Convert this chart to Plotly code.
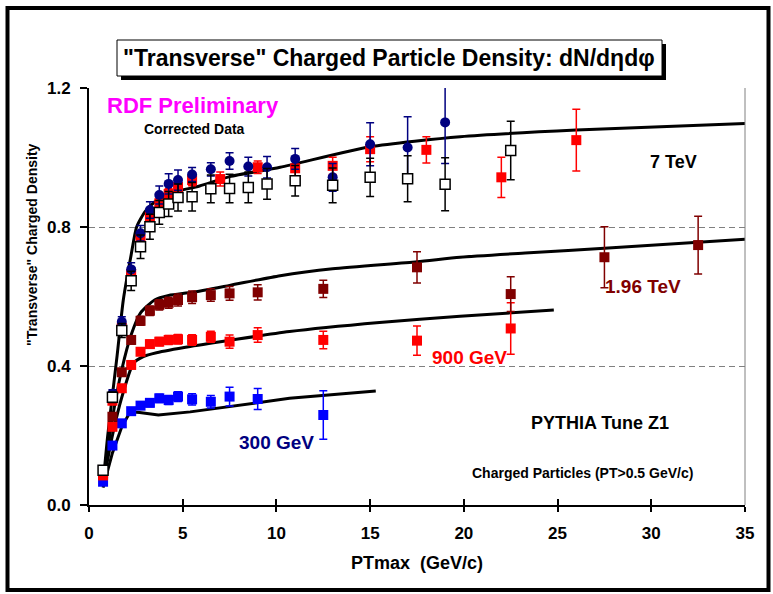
import plotly.graph_objects as go

# ---------------- data ----------------
# 7 TeV data, navy circles
x_7a = [0.75, 1.25, 1.75, 2.25, 2.75, 3.25, 3.75, 4.25, 4.75, 5.5, 6.5, 7.5, 8.5, 9.5, 11, 13, 15, 17, 19]
y_7a = [0.10, 0.32, 0.527, 0.678, 0.782, 0.849, 0.892, 0.924, 0.935, 0.951, 0.966, 0.990, 0.974, 0.972, 0.996, 0.943, 1.038, 1.029, 1.101]
e_7a = [0.01, 0.012, 0.015, 0.019, 0.022, 0.024, 0.026, 0.029, 0.029, 0.02, 0.019, 0.024, 0.027, 0.031, 0.03, 0.04, 0.062, 0.088, 0.118]

# 7 TeV data, red squares
x_7b = [0.75, 1.25, 1.75, 2.25, 2.75, 3.25, 3.75, 4.25, 4.75, 5.5, 7, 9, 11, 13, 15, 18, 22, 26]
y_7b = [0.09, 0.30, 0.51, 0.665, 0.765, 0.830, 0.868, 0.895, 0.915, 0.935, 0.938, 0.972, 0.969, 0.976, 1.024, 1.022, 0.943, 1.05]
e_7b = [0.008, 0.01, 0.012, 0.012, 0.012, 0.013, 0.014, 0.015, 0.015, 0.016, 0.02, 0.018, 0.022, 0.025, 0.036, 0.038, 0.058, 0.089]

# 7 TeV data, open squares
x_7c = [0.75, 1.25, 1.75, 2.25, 2.75, 3.25, 3.75, 4.25, 4.75, 5.5, 6.5, 7.5, 8.5, 9.5, 11, 13, 15, 17, 19, 22.5]
y_7c = [0.10, 0.31, 0.502, 0.645, 0.743, 0.801, 0.842, 0.866, 0.885, 0.887, 0.910, 0.911, 0.914, 0.924, 0.933, 0.920, 0.943, 0.939, 0.923, 1.02]
e_7c = [0.01, 0.015, 0.02, 0.028, 0.034, 0.036, 0.034, 0.036, 0.039, 0.041, 0.04, 0.041, 0.044, 0.044, 0.044, 0.05, 0.055, 0.066, 0.076, 0.084]

# 1.96 TeV data
x_196 = [0.75, 1.25, 1.75, 2.25, 2.75, 3.25, 3.75, 4.25, 4.75, 5.5, 6.5, 7.5, 9, 12.5, 17.5, 22.5, 27.5, 32.5]
y_196 = [0.093, 0.254, 0.382, 0.475, 0.530, 0.559, 0.576, 0.582, 0.590, 0.598, 0.604, 0.609, 0.612, 0.622, 0.684, 0.607, 0.713, 0.748]
e_196 = [0.005, 0.008, 0.01, 0.012, 0.013, 0.014, 0.015, 0.016, 0.017, 0.018, 0.018, 0.02, 0.022, 0.025, 0.045, 0.05, 0.088, 0.083]

# 900 GeV data
x_900 = [0.75, 1.25, 1.75, 2.25, 2.75, 3.25, 3.75, 4.25, 4.75, 5.5, 6.5, 7.5, 9, 12.5, 17.5, 22.5]
y_900 = [0.085, 0.225, 0.336, 0.403, 0.441, 0.463, 0.470, 0.475, 0.477, 0.475, 0.484, 0.470, 0.489, 0.475, 0.473, 0.508]
e_900 = [0.005, 0.007, 0.008, 0.009, 0.01, 0.011, 0.012, 0.013, 0.014, 0.015, 0.016, 0.019, 0.021, 0.025, 0.042, 0.074]

# 300 GeV data
x_300 = [0.75, 1.25, 1.75, 2.25, 2.75, 3.25, 3.75, 4.25, 4.75, 5.5, 6.5, 7.5, 9, 12.5]
y_300 = [0.067, 0.171, 0.235, 0.270, 0.286, 0.294, 0.307, 0.302, 0.312, 0.304, 0.297, 0.312, 0.305, 0.259]
e_300 = [0.005, 0.007, 0.008, 0.009, 0.01, 0.011, 0.012, 0.013, 0.014, 0.016, 0.018, 0.027, 0.03, 0.07]

# PYTHIA Tune Z1 curves
pz7_x = [0.75, 1.0, 1.5, 1.83, 2.25, 2.54, 3.0, 3.5, 4.3, 5.9, 7.5, 10.2, 15, 19.8, 26, 35]
pz7_y = [0.06, 0.2, 0.43, 0.59, 0.72, 0.80, 0.845, 0.872, 0.897, 0.918, 0.945, 0.972, 1.031, 1.06, 1.079, 1.098]
pz196_x = [0.75, 1.25, 1.75, 2.25, 2.75, 3.5, 4.25, 5.5, 7.5, 10.2, 13, 17.5, 19.8, 23.5, 27.5, 35]
pz196_y = [0.06, 0.25, 0.39, 0.49, 0.553, 0.59, 0.603, 0.612, 0.632, 0.66, 0.68, 0.70, 0.713, 0.726, 0.739, 0.765]
pz900_x = [0.75, 1.25, 1.75, 2.37, 2.9, 3.6, 5.4, 10.7, 15.5, 19.8, 24.8]
pz900_y = [0.06, 0.2, 0.31, 0.408, 0.427, 0.438, 0.456, 0.499, 0.525, 0.543, 0.561]
pz300_x = [0.75, 1.25, 1.75, 2.2, 2.7, 3.7, 5.4, 10.7, 15.3]
pz300_y = [0.05, 0.15, 0.225, 0.268, 0.266, 0.259, 0.268, 0.307, 0.328]

x_ticks = [0, 5, 10, 15, 20, 25, 30, 35]
y_ticks = [0.0, 0.4, 0.8, 1.2]
y_tick_text = ["0.0", "0.4", "0.8", "1.2"]

# ---------------- styling ----------------
FONT = "Liberation Sans, Arial, sans-serif"
NAVY = "#000080"
RED = "#FF0000"
DKRED = "#800000"
BLUE = "#0000FF"

W, H = 773, 594
L, R, T, B = 89, 745, 88, 505


def px_x(px):
    return (px - L) / (R - L)


def px_y(py):
    return (B - py) / (B - T)


fig = go.Figure()

# PYTHIA curves
for xs, ys, shp in [(pz7_x, pz7_y, "spline"), (pz196_x, pz196_y, "spline"),
                    (pz900_x, pz900_y, "spline"), (pz300_x, pz300_y, "linear")]:
    fig.add_trace(go.Scatter(x=xs, y=ys, mode="lines",
                             line=dict(color="black", width=3, shape=shp, smoothing=0.6),
                             showlegend=False, hoverinfo="skip"))


def data_trace(xs, ys, es, color, symbol, fill, line_color, line_w=0):
    return go.Scatter(
        x=xs, y=ys, mode="markers",
        error_y=dict(type="data", array=es, visible=True, color=color, thickness=1.5, width=4),
        marker=dict(symbol=symbol, size=10, color=fill,
                    line=dict(color=line_color, width=line_w)),
        showlegend=False, cliponaxis=True)


fig.add_trace(data_trace(x_300, y_300, e_300, BLUE, "square", BLUE, BLUE))
fig.add_trace(data_trace(x_900, y_900, e_900, RED, "square", RED, RED))
fig.add_trace(data_trace(x_196, y_196, e_196, DKRED, "square", DKRED, DKRED))
fig.add_trace(data_trace(x_7b, y_7b, e_7b, RED, "square", RED, RED))
fig.add_trace(data_trace(x_7a, y_7a, e_7a, NAVY, "circle", NAVY, NAVY))
fig.add_trace(data_trace(x_7c, y_7c, e_7c, "black", "square", "white", "black", 1.5))

# helper trace for the inner tick axis
fig.add_trace(go.Scatter(x=[0], y=[0], xaxis="x2", mode="markers",
                         marker=dict(opacity=0), showlegend=False, hoverinfo="skip"))

tick_font = dict(family=FONT, size=17, color="black")

fig.update_layout(
    width=W, height=H, autosize=False,
    margin=dict(l=L, r=W - R, t=T, b=H - B, pad=0),
    paper_bgcolor="white", plot_bgcolor="white",
    font=dict(family=FONT, color="black"),
    xaxis=dict(range=[0, 35], tickvals=x_ticks, ticktext=[f"<b>{v}</b>" for v in x_ticks],
               ticks="outside", ticklen=5, tickwidth=1.5, tickcolor="black",
               showline=True, linecolor="black", linewidth=2, showgrid=False, zeroline=False,
               tickfont=tick_font, ticklabelstandoff=7,
               title=dict(text="<b>PTmax\u00a0\u00a0(GeV/c)</b>", font=dict(family=FONT, size=18), standoff=14)),
    xaxis2=dict(range=[0, 35], overlaying="x", anchor="y", side="bottom", tickvals=x_ticks,
                ticks="inside", ticklen=6, tickwidth=1.5, tickcolor="black",
                showticklabels=False, showgrid=False, showline=False, zeroline=False),
    yaxis=dict(range=[0, 1.2], tickvals=y_ticks, ticktext=[f"<b>{t}</b>" for t in y_tick_text],
               ticks="outside", ticklen=7, tickwidth=1.5, tickcolor="black",
               showline=True, linecolor="black", linewidth=2, zeroline=False,
               showgrid=True, gridcolor="#808080", gridwidth=1, griddash="6px,4px",
               tickfont=tick_font, ticklabelstandoff=6),
)

# right border of plot area
fig.add_shape(type="line", xref="paper", yref="paper", x0=1, x1=1, y0=0, y1=1,
              line=dict(color="#808080", width=1))
# outer frame
fig.add_shape(type="rect", xref="paper", yref="paper",
              x0=px_x(7.5), x1=px_x(768.5), y0=px_y(590), y1=px_y(8),
              line=dict(color="black", width=4), fillcolor="rgba(0,0,0,0)", layer="above")
# title box with drop shadow
fig.add_shape(type="rect", xref="paper", yref="paper",
              x0=px_x(121), x1=px_x(666), y0=px_y(80), y1=px_y(44),
              line=dict(color="black", width=0), fillcolor="black", layer="above")
fig.add_shape(type="rect", xref="paper", yref="paper",
              x0=px_x(117), x1=px_x(662), y0=px_y(76), y1=px_y(40),
              line=dict(color="black", width=1), fillcolor="white", layer="above")

fig.add_annotation(text="<b>\"Transverse\" Charged Particle Density: dN/d\u03b7d\u03c6</b>",
                   xref="paper", yref="paper", x=px_x(389), y=px_y(58),
                   xanchor="center", yanchor="middle", showarrow=False,
                   font=dict(family=FONT, size=23, color="black"))

# y-axis title
fig.add_annotation(text="<b>\"Transverse\" Charged Density</b>", xref="paper", yref="paper",
                   x=px_x(32), y=px_y(245), xanchor="center", yanchor="middle",
                   textangle=-90, showarrow=False, font=dict(family=FONT, size=14, color="black"))

labels = [
    ("RDF Preliminary", 0.85, 1.151, 22, "#FF00FF"),
    ("Corrected Data", 2.81, 1.081, 14, "black"),
    ("7 TeV", 29.83, 0.988, 18, "black"),
    ("1.96 TeV", 27.43, 0.628, 19, DKRED),
    ("900 GeV", 18.2, 0.425, 19, RED),
    ("300 GeV", 7.88, 0.181, 19, NAVY),
    ("PYTHIA Tune Z1", 23.48, 0.236, 18, "black"),
    ("Charged Particles (PT>0.5 GeV/c)", 20.33, 0.091, 14, "black"),
]
for txt, x, y, sz, col in labels:
    fig.add_annotation(text=f"<b>{txt}</b>", x=x, y=y, xref="x", yref="y",
                       xanchor="left", yanchor="middle", showarrow=False,
                       font=dict(family=FONT, size=sz, color=col))

fig.write_html("out.html")
